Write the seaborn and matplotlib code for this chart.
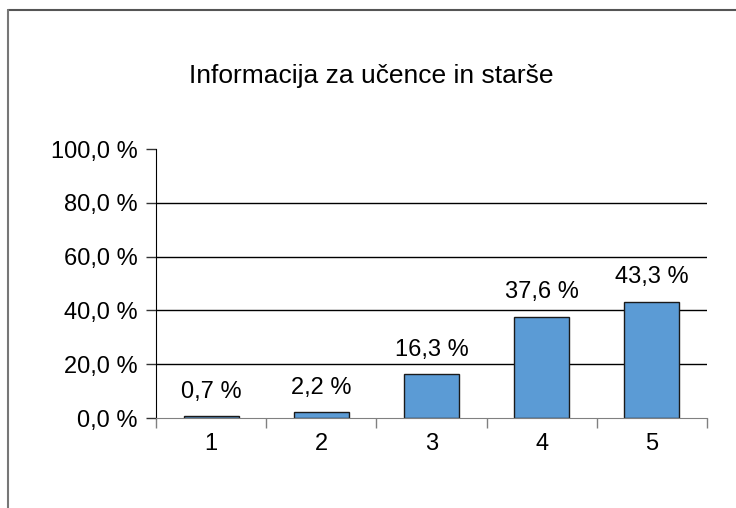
import matplotlib
matplotlib.use("Agg")
import matplotlib.pyplot as plt
import seaborn as sns
import pandas as pd
from matplotlib.lines import Line2D

# podatki
kategorije = ["1", "2", "3", "4", "5"]
odstotki = [0.7, 2.2, 16.3, 37.6, 43.3]
oznake = ["0,7 %", "2,2 %", "16,3 %", "37,6 %", "43,3 %"]
y_ticki = [0, 20, 40, 60, 80, 100]
y_oznake = ["0,0 %", "20,0 %", "40,0 %", "60,0 %", "80,0 %", "100,0 %"]
naslov = "Informacija za učence in starše"

sns.set_style("white")
plt.rcParams["font.family"] = ["Liberation Sans", "DejaVu Sans"]
plt.rcParams["text.color"] = "black"
plt.rcParams["xtick.color"] = "black"
plt.rcParams["ytick.color"] = "black"

df = pd.DataFrame({"ocena": kategorije, "delez": odstotki})

fig = plt.figure(figsize=(7.36, 5.08), dpi=100)
ax = fig.add_axes([0.212, 0.177, 0.7486, 0.5296])

sns.barplot(data=df, x="ocena", y="delez", color="#5B9BD5", saturation=1,
            width=0.5, edgecolor="#1a1a1a", linewidth=1.0, ax=ax, zorder=3)

ax.set_ylim(0, 100)
ax.set_xlim(-0.5, 4.5)
ax.set_yticks(y_ticki)
ax.set_yticklabels(y_oznake, fontsize=17)
ax.tick_params(axis="y", left=True, length=7, width=1, color="#333333", pad=6)
ax.tick_params(axis="x", which="major", bottom=True, length=0, labelsize=17, pad=11)
ax.set_xticks([-0.5, 0.5, 1.5, 2.5, 3.5, 4.5], minor=True)
ax.tick_params(axis="x", which="minor", bottom=True, length=7, width=1, color="#808080")
ax.set_xlabel("")
ax.set_ylabel("")

for y in y_ticki[1:-1]:
    ax.axhline(y, color="black", lw=1, zorder=1)

for sp in ["top", "right"]:
    ax.spines[sp].set_visible(False)
ax.spines["left"].set_color("black")
ax.spines["bottom"].set_color("#808080")
ax.spines["bottom"].set_zorder(4)

for i, (v, t) in enumerate(zip(odstotki, oznake)):
    ax.text(i, v + 5, t, ha="center", va="bottom", fontsize=17)

fig.text(0.505, 0.85, naslov, ha="center", va="center", fontsize=19)

# okvir
fig.add_artist(Line2D([0.011, 1.0], [0.981, 0.981], color="#555555", lw=1.5))
fig.add_artist(Line2D([0.011, 0.011], [0.0, 0.981], color="#777777", lw=1.5))

fig.savefig("out.png", dpi=100)
